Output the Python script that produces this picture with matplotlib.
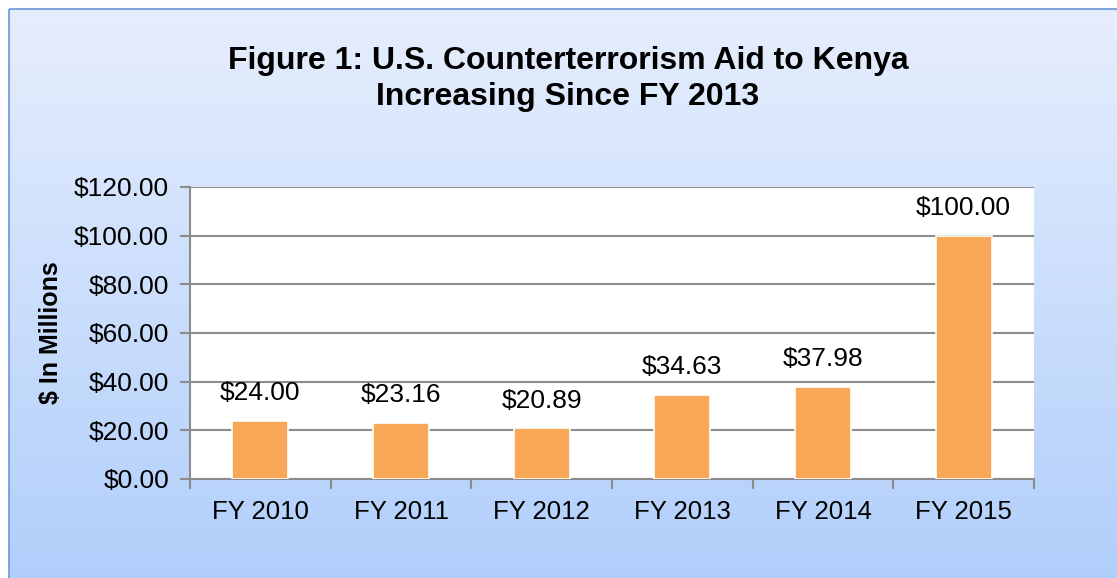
import matplotlib
matplotlib.use("Agg")
import matplotlib.pyplot as plt
import numpy as np
from matplotlib.patches import Rectangle
from matplotlib.ticker import FixedLocator, FuncFormatter

categories = ["FY 2010", "FY 2011", "FY 2012", "FY 2013", "FY 2014", "FY 2015"]
values = [24.00, 23.16, 20.89, 34.63, 37.98, 100.00]
yticks = [0, 20, 40, 60, 80, 100, 120]

plt.rcParams['font.family'] = ['Liberation Sans', 'DejaVu Sans']

fig = plt.figure(figsize=(11.17, 5.78), dpi=100)
fig.patch.set_facecolor('white')

# background gradient panel
bg = fig.add_axes([0, 0, 1, 1], zorder=0)
bg.set_xlim(0, 1117)
bg.set_ylim(578, 0)
bg.axis('off')
top = np.array([0xe6, 0xee, 0xfd]) / 255
bot = np.array([0xb0, 0xce, 0xfb]) / 255
t = np.linspace(0, 1, 256)[:, None]
grad = (top[None, :] * (1 - t) + bot[None, :] * t)[:, None, :]
bg.imshow(grad, extent=[9, 1130, 590, 9], aspect='auto', zorder=0)
bg.add_patch(Rectangle((9, 9), 1130, 590, fill=False, edgecolor='#7fa6dc', linewidth=1.5, zorder=1))

ax = fig.add_axes([190/1117, 1 - 479/578, 844/1117, 292/578], zorder=2)
ax.set_facecolor('white')
x = np.arange(len(categories))
bars = ax.bar(x, values, width=0.4, color='#f9a857', edgecolor='white', linewidth=1.2, zorder=3)
ax.set_xlim(-0.5, len(categories) - 0.5)
ax.set_ylim(0, 120)
ax.set_yticks(yticks)
ax.yaxis.set_major_formatter(FuncFormatter(lambda v, p: f"${v:.2f}"))
ax.grid(axis='y', color='#8c8c8c', linewidth=1.5, zorder=1)
ax.set_axisbelow(True)

ax.set_xticks(x)
ax.set_xticklabels(categories)
ax.xaxis.set_minor_locator(FixedLocator(np.arange(-0.5, len(categories), 1.0)))
ax.tick_params(axis='x', which='major', length=0, labelsize=18.5, pad=15)
ax.tick_params(axis='x', which='minor', length=7, color='#8c8c8c', width=1.5, direction='out')
ax.tick_params(axis='y', length=7, color='#8c8c8c', width=1.5, labelsize=19, pad=8)

for s in ['top', 'right']:
    ax.spines[s].set_visible(False)
for s in ['left', 'bottom']:
    ax.spines[s].set_color('#8c8c8c')
    ax.spines[s].set_linewidth(1.5)

for b, v in zip(bars, values):
    ax.annotate(f"${v:.2f}", (b.get_x() + b.get_width() / 2, v), xytext=(0, 11),
                textcoords='offset points', ha='center', va='bottom', fontsize=19)

ax.set_ylabel("$ In Millions", fontsize=18, fontweight='bold', labelpad=8)

fig.text(568/1117, 1 - 79/578, "Figure 1: U.S. Counterterrorism Aid to Kenya\nIncreasing Since FY 2013",
         ha='center', va='center', fontsize=23, fontweight='bold', linespacing=1.3)

fig.savefig("out.png", dpi=100, facecolor='white')
